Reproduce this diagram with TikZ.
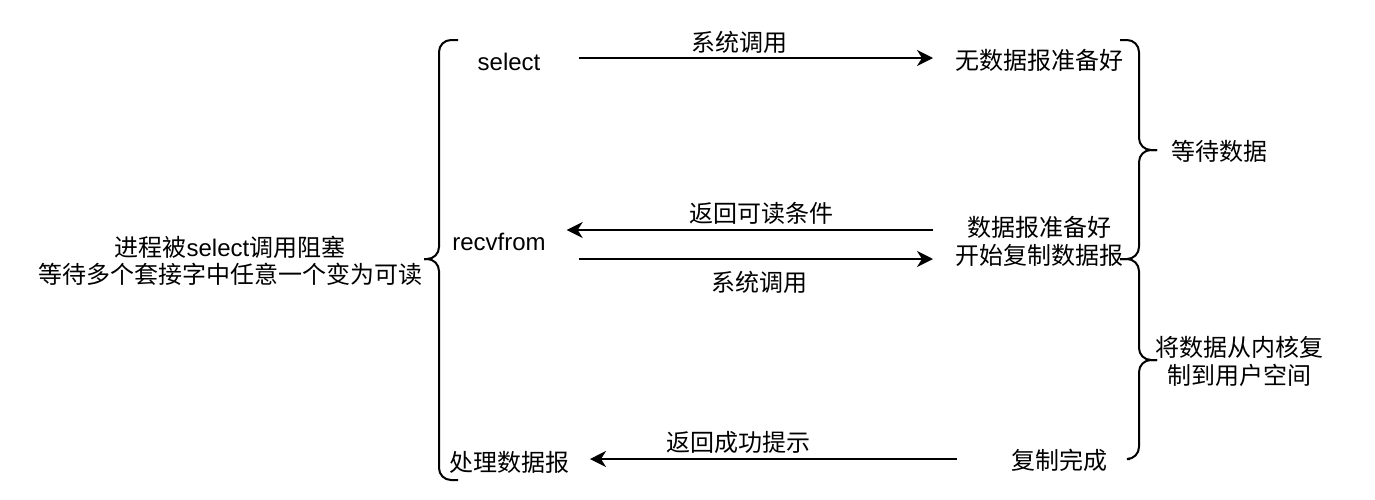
\documentclass[tikz,border=0pt]{standalone}
\usepackage{fontspec}
\setmainfont{Liberation Sans}
\newfontfamily\cjk{Noto Sans CJK SC}
\usetikzlibrary{arrows.meta}
\begin{document}
\begin{tikzpicture}[x=1pt, y=-1pt]
		\tikzset{txt/.style={inner sep=0, outer sep=0, align=center, font=\cjk\fontsize{24}{28}\selectfont}}
		\tikzset{ar/.style={-{Stealth[length=16pt, width=16pt, inset=5pt]}, line width=2pt}}
		\tikzset{curly/.style={line width=2pt, rounded corners=12pt}}
		\useasboundingbox (0,0) rectangle (1375,499);
		% left column
		\node[txt, font=\cjk\fontsize{24}{27}\selectfont] at (230, 261) (blocked) {进程被\textrm{select}调用阻塞\\等待多个套接字中任意一个变为可读};
		\node[txt, font=\rmfamily\fontsize{24}{28}\selectfont] at (509, 62) (sel) {select};
		\node[txt, font=\rmfamily\fontsize{24}{28}\selectfont] at (499, 242) (recv) {recvfrom};
		\node[txt] at (509, 462) (handle) {处理数据报};
		% right column
		\node[txt] at (1039, 60) (nodata) {无数据报准备好};
		\node[txt] at (1039, 241) (ready) {数据报准备好\\开始复制数据报};
		\node[txt] at (1059, 460) (done) {复制完成};
		\node[txt] at (1219, 151) (wait) {等待数据};
		\node[txt] at (1239, 361) (kcopy) {将数据从内核复\\制到用户空间};
		% arrow labels
		\node[txt] at (739, 42) (call1) {系统调用};
		\node[txt] at (761, 213) (back1) {返回可读条件};
		\node[txt] at (759, 282) (call2) {系统调用};
		\node[txt] at (738, 442) (back2) {返回成功提示};
		% arrows
		\draw[ar, shorten <=39pt, shorten >=22pt] ([yshift=4pt]sel.east) -- ([yshift=2pt]nodata.west);
		\draw[ar, shorten <=22pt, shorten >=21pt] ([yshift=11pt]ready.west) -- ([yshift=12pt]recv.east);
		\draw[ar, shorten <=33pt, shorten >=22pt] ([yshift=-17pt]recv.east) -- ([yshift=-18pt]ready.west);
		\draw[ar, shorten <=54pt, shorten >=21pt] ([yshift=1pt]done.west) -- ([yshift=3pt]handle.east);
		% braces
		\draw[curly] (458, 40) -| (439, 259) -- (424, 259);
		\draw[curly] (458, 480) -| (439, 259) -- (424, 259);
		\draw[curly] (1120, 40) -| (1139, 150) -- (1157, 150);
		\draw[curly] (1120, 259) -| (1139, 150) -- (1157, 150);
		\draw[curly] (1120, 259) -| (1139, 360) -- (1157, 360);
		\draw[curly] (1130, 459) -| (1139, 360) -- (1157, 360);
\end{tikzpicture}
\end{document}
